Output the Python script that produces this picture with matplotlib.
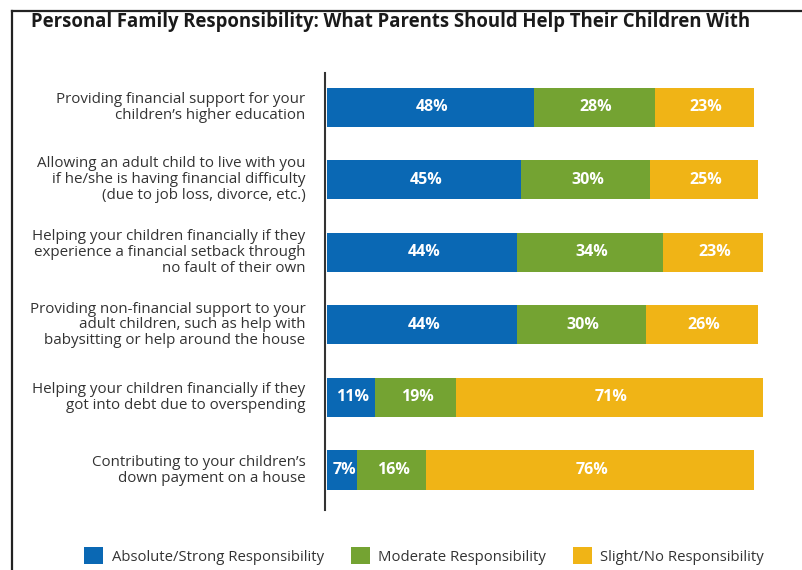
import matplotlib.pyplot as plt
from matplotlib.lines import Line2D
from matplotlib.patches import Patch

# data
categories = [
    "Providing financial support for your\nchildren\u2019s higher education",
    "Allowing an adult child to live with you\nif he/she is having financial difficulty\n(due to job loss, divorce, etc.)",
    "Helping your children financially if they\nexperience a financial setback through\nno fault of their own",
    "Providing non-financial support to your\nadult children, such as help with\nbabysitting or help around the house",
    "Helping your children financially if they\ngot into debt due to overspending",
    "Contributing to your children\u2019s\ndown payment on a house",
]
strong = [48, 45, 44, 44, 11, 7]
moderate = [28, 30, 34, 30, 19, 16]
slight = [23, 25, 23, 26, 71, 76]
series_names = ["Absolute/Strong Responsibility", "Moderate Responsibility",
                "Slight/No Responsibility"]
colors = ["#0a68b4", "#74a332", "#f0b416"]

plt.rcParams['font.family'] = ['Open Sans', 'DejaVu Sans']

W, H = 803, 570
fig = plt.figure(figsize=(W / 100, H / 100), dpi=100)

# frame (left and top edges of the cropped box)
fig.add_artist(Line2D([12 / W, 12 / W], [0, 1 - 11 / H], color="#222222", lw=1.6))
fig.add_artist(Line2D([12 / W, 1], [1 - 11 / H, 1 - 11 / H], color="#222222", lw=1.6))

fig.text(31 / W, 1 - 22 / H,
         "Personal Family Responsibility: What Parents Should Help Their Children With",
         fontsize=13.35, fontweight="bold", color="#1a1a1a", ha="left", va="center")

# axes: x=0 at 325px, 4.33 px per percent
px_per = 4.33
ax_left, ax_top, ax_bot = 325, 73, 510
xmax = 110
ax = fig.add_axes([ax_left / W, 1 - ax_bot / H, xmax * px_per / W, (ax_bot - ax_top) / H])

y = list(range(len(categories)))
lefts = [0] * len(y)
for vals, col in zip([strong, moderate, slight], colors):
    ax.barh(y, vals, left=lefts, height=0.54, color=col, edgecolor="none")
    for yi, v, l in zip(y, vals, lefts):
        ax.text(l + v / 2 + 0.4, yi, f"{v}%", ha="center", va="center",
                color="white", fontsize=11.5, fontweight="bold")
    lefts = [a + b for a, b in zip(lefts, vals)]

ax.set_xlim(-0.5, xmax)
ax.set_ylim(5.55, -0.47)
for s in ["top", "right", "bottom"]:
    ax.spines[s].set_visible(False)
ax.spines["left"].set_color("#333333")
ax.spines["left"].set_linewidth(1.5)
ax.spines["left"].set_position(("data", -0.5))
ax.set_xticks([])
ax.set_yticks([])

for yi, lab in zip(y, categories):
    ax.text(-5, yi, lab, ha="right", va="center", multialignment="right",
            fontsize=10.9, color="#333333", linespacing=1.08,
            transform=ax.transData)

handles = [Patch(facecolor=c, edgecolor="none") for c in colors]
fig.legend(handles, series_names, loc="center", bbox_to_anchor=(424 / W, 1 - 556 / H),
           ncol=3, frameon=False, fontsize=10.7, handlelength=1.3, handleheight=1.3,
           handletextpad=0.55, columnspacing=1.8, labelcolor="#333333")

fig.savefig("out.png", dpi=100)
